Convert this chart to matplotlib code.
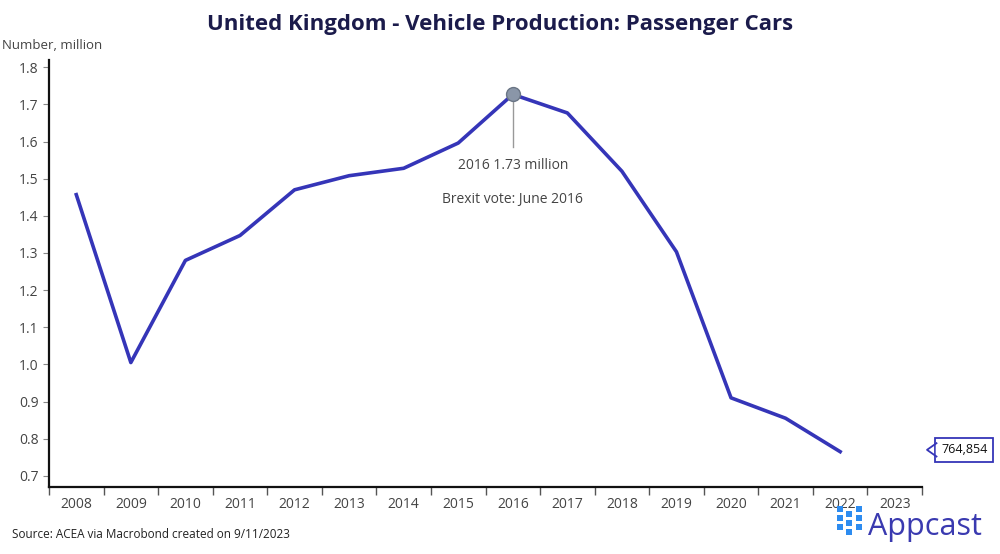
import matplotlib.pyplot as plt
from matplotlib.patches import Rectangle
from matplotlib.lines import Line2D

plt.rcParams['font.family'] = ['Open Sans', 'DejaVu Sans']

years = [2008, 2009, 2010, 2011, 2012, 2013, 2014, 2015, 2016, 2017, 2018, 2019, 2020, 2021, 2022]
cars_mn = [1.457, 1.005, 1.280, 1.347, 1.470, 1.508, 1.528, 1.596, 1.727, 1.677, 1.520, 1.303, 0.910, 0.855, 0.765]
year_labels = list(range(2008, 2024))
last_value = '764,854'

line_col = '#3535b8'
grey = '#444444'

fig = plt.figure(figsize=(10, 5.54), dpi=100)
ax = fig.add_axes([0.049, 0.121, 0.873, 0.771])

ax.plot(years, cars_mn, color=line_col, lw=2.6, solid_joinstyle='round', zorder=3)

# peak marker + annotation
ax.plot(2016, cars_mn[years.index(2016)], 'o', ms=10, mfc='#8a96a8', mec='#6a7585', zorder=4)
ax.plot([2016, 2016], [1.715, 1.585], color='#999999', lw=1, zorder=2)
ax.text(2016, 1.535, '2016 1.73 million', ha='center', va='center', fontsize=10, color=grey)
ax.text(2016, 1.443, 'Brexit vote: June 2016', ha='center', va='center', fontsize=10, color=grey)

ax.set_xlim(2007.5, 2023.5)
ax.set_ylim(0.67, 1.82)
ax.set_yticks([0.7, 0.8, 0.9, 1.0, 1.1, 1.2, 1.3, 1.4, 1.5, 1.6, 1.7, 1.8])
ax.set_yticklabels(['0.7', '0.8', '0.9', '1.0', '1.1', '1.2', '1.3', '1.4', '1.5', '1.6', '1.7', '1.8'])
ax.set_xticks(year_labels)
ax.set_xticklabels([str(y) for y in year_labels])
ax.set_xticks([y - 0.5 for y in year_labels] + [2023.5], minor=True)
ax.tick_params(axis='x', which='major', length=0, pad=7, labelsize=10, labelcolor=grey)
ax.tick_params(axis='x', which='minor', length=6, width=1, color='#555555', direction='out')
ax.tick_params(axis='y', length=4, width=0.8, color='#888888', labelsize=10, labelcolor=grey)

for s in ['top', 'right']:
    ax.spines[s].set_visible(False)
for s in ['left', 'bottom']:
    ax.spines[s].set_linewidth(1.6)
    ax.spines[s].set_color('#111111')

fig.text(0.5, 0.955, 'United Kingdom - Vehicle Production: Passenger Cars', ha='center', va='center',
         fontsize=16, fontweight='bold', color='#1b1b4b')
fig.text(0.002, 0.917, 'Number, million', ha='left', va='center', fontsize=9.5, color=grey)
fig.text(0.012, 0.035, 'Source: ACEA via Macrobond created on 9/11/2023', ha='left', va='center',
         fontsize=8.5, color='#222222')

# last value callout with small pointer
fig.text(0.941, 0.188, last_value, ha='left', va='center', fontsize=9, color='#111111',
         bbox=dict(boxstyle='square,pad=0.45', fc='white', ec=line_col, lw=1.3))
fig.add_artist(Line2D([0.9365, 0.9365], [0.178, 0.198], transform=fig.transFigure,
                      color='white', lw=2.5, zorder=5))
fig.add_artist(Line2D([0.9365, 0.927, 0.9365], [0.176, 0.188, 0.200], transform=fig.transFigure,
                      color=line_col, lw=1.3, zorder=6))

# Appcast logo
for cx in range(3):
    for cy in range(3):
        fig.add_artist(Rectangle((0.837 + cx * 0.0095, 0.043 + cy * 0.016 + (0 if cx != 1 else -0.008)),
                                 0.006, 0.011, transform=fig.transFigure, color='#2d8cf0', lw=0))
fig.text(0.868, 0.048, 'Appcast', ha='left', va='center', fontsize=22, color='#3a3ab0')

plt.savefig('out.png', dpi=100)
